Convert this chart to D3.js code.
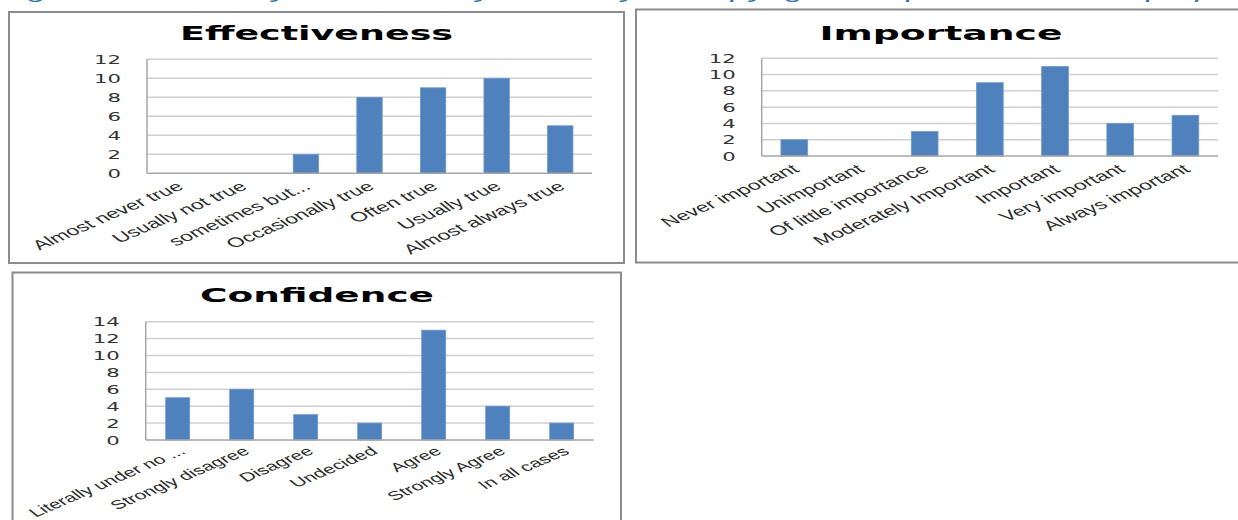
<!DOCTYPE html>
<html>
<head>
<meta charset="utf-8">
<script src="https://cdn.jsdelivr.net/npm/d3@7"></script>
<style>
  html, body { margin: 0; padding: 0; background: #fff; }
  svg { display: block; }
</style>
</head>
<body>
<svg id="chart" width="1238" height="520"></svg>
<script>
// ---------- DATA ----------
const effectivenessCategories = ["Almost never true", "Usually not true", "sometimes but...", "Occasionally true", "Often true", "Usually true", "Almost always true"];
const effectivenessValues = [0, 0, 2, 8, 9, 10, 5];
const effectivenessTicks = [0, 2, 4, 6, 8, 10, 12];

const importanceCategories = ["Never important", "Unimportant", "Of little importance", "Moderately Important", "Important", "Very important", "Always important"];
const importanceValues = [2, 0, 3, 9, 11, 4, 5];
const importanceTicks = [0, 2, 4, 6, 8, 10, 12];

const confidenceCategories = ["Literally under no ...", "Strongly disagree", "Disagree", "Undecided", "Agree", "Strongly Agree", "In all cases"];
const confidenceValues = [5, 6, 3, 2, 13, 4, 2];
const confidenceTicks = [0, 2, 4, 6, 8, 10, 12, 14];

const titles = ["Effectiveness", "Importance", "Confidence"];
const captionText = "Figure 5: Summary of the survey of faculty on copyright compliance and the proposed process";

// ---------- LAYOUT ----------
const svg = d3.select("#chart");
const SX = 1.7; // horizontal stretch of the source picture

const panels = [
  { frame: [9, 12, 615, 251], left: 147, right: 592, bottom: 173.3, top: 59.3, pad: 0.6,
    titleX: 316.5, titleY: 40, titleW: 273, labDx: 6, labDy: 15, labFont: 13.5 },
  { frame: [636, 9.5, 640, 253], left: 761.7, right: 1218, bottom: 156, top: 58.3, pad: 0.59,
    titleX: 941, titleY: 39.5, titleW: 243, labDx: 6, labDy: 15, labFont: 13.5 },
  { frame: [12.5, 272.5, 608.5, 270], left: 145.7, right: 593.7, bottom: 440, top: 321.7, pad: 0.625,
    titleX: 317, titleY: 302, titleW: 234, labDx: 9, labDy: 13, labFont: 12.5 }
];

// caption (clipped at top, only descenders visible)
svg.append("text")
  .attr("x", 0).attr("y", -2)
  .attr("transform", `scale(${SX},1)`)
  .attr("font-family", "Liberation Sans, Arial, sans-serif")
  .attr("font-style", "italic")
  .attr("font-size", 20)
  .attr("fill", "#2E74B5")
  .text(captionText);

function drawPanel(cfg, categories, values, ticks, title) {
  const g = svg.append("g");
  const [fx, fy, fw, fh] = cfg.frame;
  g.append("rect")
    .attr("x", fx).attr("y", fy).attr("width", fw).attr("height", fh)
    .attr("fill", "#fff").attr("stroke", "#8c8c8c").attr("stroke-width", 2);

  const x = d3.scaleBand().domain(categories)
    .range([cfg.left, cfg.right])
    .paddingInner(cfg.pad).paddingOuter(cfg.pad / 2);
  const y = d3.scaleLinear().domain([0, d3.max(ticks)]).range([cfg.bottom, cfg.top]);

  // gridlines
  g.append("g").selectAll("line")
    .data(ticks.filter(t => t !== 0))
    .join("line")
    .attr("x1", cfg.left).attr("x2", cfg.right)
    .attr("y1", d => y(d)).attr("y2", d => y(d))
    .attr("stroke", "#d0d0d0").attr("stroke-width", 1.5);

  // bars
  g.append("g").selectAll("rect")
    .data(values.map((v, i) => ({ c: categories[i], v })))
    .join("rect")
    .attr("x", d => x(d.c))
    .attr("width", x.bandwidth())
    .attr("y", d => y(d.v))
    .attr("height", d => y(0) - y(d.v))
    .attr("fill", "#4F81BD")
    .attr("stroke", "#6f98cc").attr("stroke-width", 0.8);

  // axes lines
  g.append("line")
    .attr("x1", cfg.left).attr("x2", cfg.left)
    .attr("y1", y(0)).attr("y2", y(d3.max(ticks)))
    .attr("stroke", "#a6a6a6").attr("stroke-width", 1.5);
  g.append("line")
    .attr("x1", cfg.left).attr("x2", cfg.right)
    .attr("y1", y(0)).attr("y2", y(0))
    .attr("stroke", "#a6a6a6").attr("stroke-width", 1.5);

  // y axis labels
  const ax = g.append("g")
    .attr("transform", `translate(${cfg.left},0)`)
    .call(d3.axisLeft(y).tickValues(ticks).tickSize(0).tickPadding(0));
  ax.select(".domain").remove();
  ax.selectAll("text")
    .attr("x", null)
    .attr("transform", `translate(-26,0) scale(${SX},1)`)
    .attr("font-family", "DejaVu Sans, Verdana, sans-serif")
    .attr("font-size", 12.5)
    .attr("fill", "#333");

  // category labels
  g.append("g").selectAll("text")
    .data(categories)
    .join("text")
    .attr("transform", d => `translate(${x(d) + x.bandwidth() / 2 + cfg.labDx},${y(0) + cfg.labDy}) scale(${SX},1) rotate(-36)`)
    .attr("text-anchor", "end")
    .attr("font-family", "Liberation Sans, Arial, sans-serif")
    .attr("font-size", cfg.labFont)
    .attr("fill", "#2b2b2b")
    .text(d => d);

  // title
  g.append("text")
    .attr("x", cfg.titleX).attr("y", cfg.titleY)
    .attr("text-anchor", "middle")
    .attr("font-family", "DejaVu Sans, Verdana, sans-serif")
    .attr("font-weight", "bold")
    .attr("font-size", 20)
    .attr("textLength", cfg.titleW)
    .attr("lengthAdjust", "spacingAndGlyphs")
    .attr("fill", "#000")
    .text(title);
}

drawPanel(panels[0], effectivenessCategories, effectivenessValues, effectivenessTicks, titles[0]);
drawPanel(panels[1], importanceCategories, importanceValues, importanceTicks, titles[1]);
drawPanel(panels[2], confidenceCategories, confidenceValues, confidenceTicks, titles[2]);
</script>
</body>
</html>
